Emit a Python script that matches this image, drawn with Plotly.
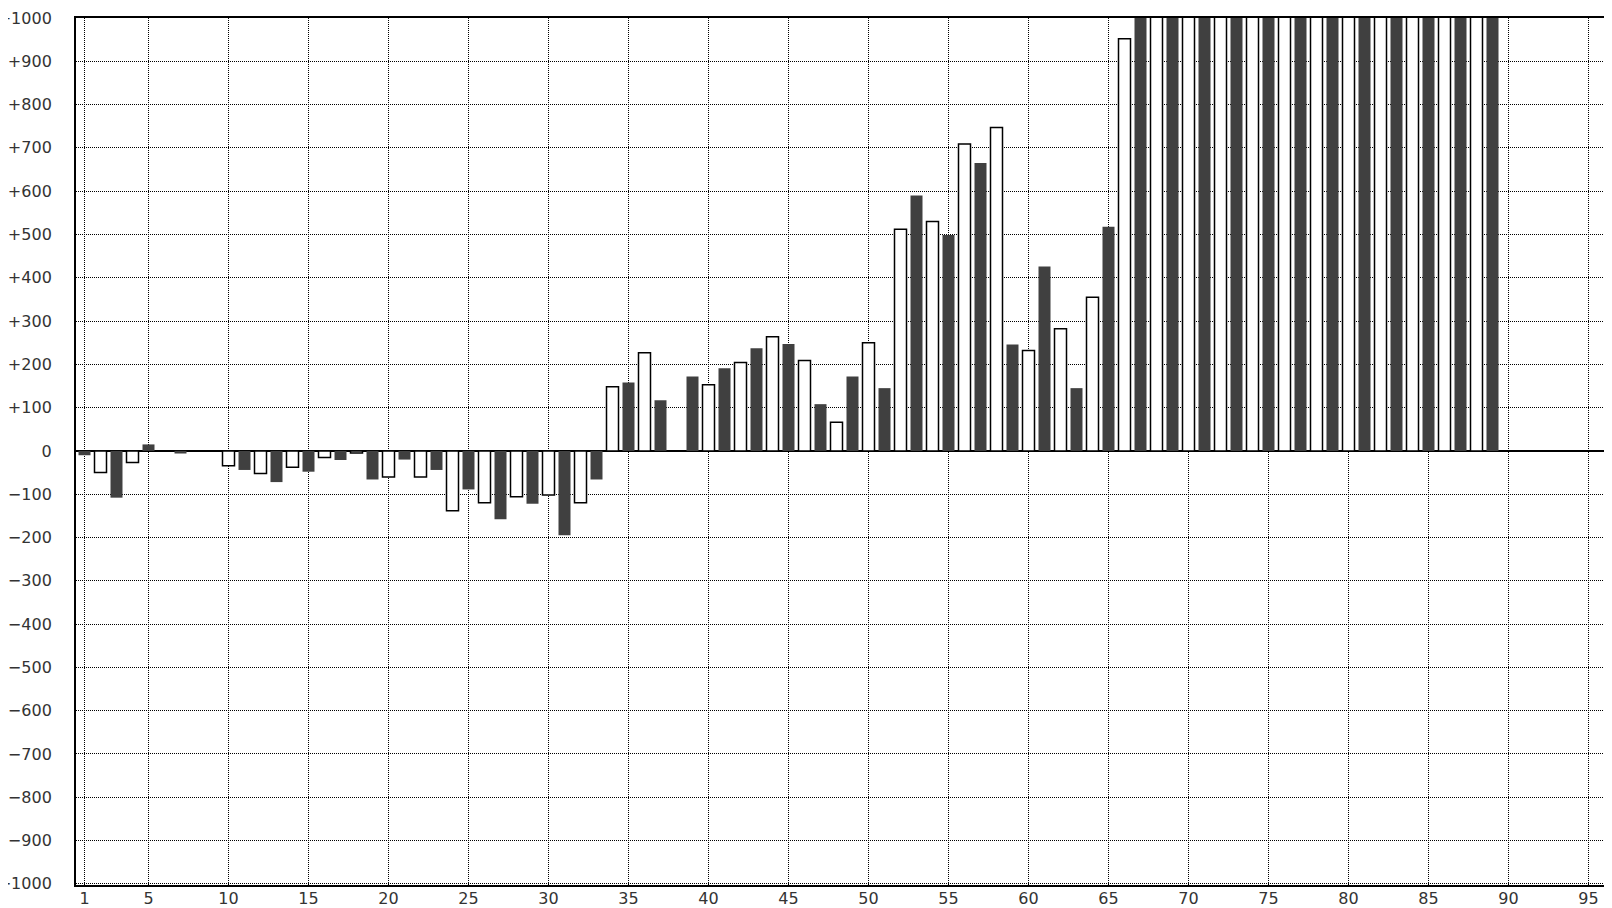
import plotly.graph_objects as go

days = list(range(1, 90))
values = [
    -10, -50, -108, -27, 15, 0, -6, 0, 0, -34,
    -44, -52, -72, -38, -48, -15, -21, -5, -66, -60,
    -20, -60, -44, -138, -89, -120, -158, -106, -122, -102,
    -195, -120, -66, 148, 158, 227, 117, 0, 172, 153,
    191, 204, 237, 264, 247, 209, 108, 66, 172, 250,
    145, 512, 590, 530, 499, 709, 665, 747, 246, 232,
    426, 282, 145, 355, 518, 952, 1100, 1100, 1100, 1100,
    1100, 1100, 1100, 1100, 1100, 1100, 1100, 1100, 1100, 1100,
    1100, 1100, 1100, 1100, 1100, 1100, 1100, 1100, 1100,
]

x_ticks = [1, 5, 10, 15, 20, 25, 30, 35, 40, 45, 50, 55, 60, 65, 70, 75, 80, 85, 90, 95]
y_ticks = list(range(-1000, 1001, 100))
y_labels = ["0" if v == 0 else ("+%d" % v if v > 0 else "\u2212%d" % -v) for v in y_ticks]

odd_x = [d for d in days if d % 2 == 1]
odd_y = [v for d, v in zip(days, values) if d % 2 == 1]
even_x = [d for d in days if d % 2 == 0]
even_y = [v for d, v in zip(days, values) if d % 2 == 0]

fig = go.Figure()
fig.add_trace(go.Bar(x=even_x, y=even_y, width=0.75,
                     marker=dict(color="white", line=dict(color="black", width=1.5))))
fig.add_trace(go.Bar(x=odd_x, y=odd_y, width=0.75,
                     marker=dict(color="#404040", line=dict(color="#404040", width=0))))

# the page body adds an 8px margin, so the figure is 8px smaller and shifted
fig.update_layout(
    width=1604, height=900,
    margin=dict(l=68, r=0, t=10, b=23, autoexpand=False),
    paper_bgcolor="white", plot_bgcolor="white",
    barmode="overlay", showlegend=False,
    font=dict(family="DejaVu Sans", size=16, color="#333"),
)
fig.update_xaxes(
    range=[0.46875, 96.46875], tickvals=x_ticks, ticktext=[str(t) for t in x_ticks],
    automargin=False, ticklabeloverflow="allow",
    showgrid=True, gridcolor="black", gridwidth=1, griddash="1px,1px",
    showline=True, linecolor="black", linewidth=2, mirror=True,
    ticks="", ticklabelstandoff=-2,
    zeroline=False,
)
fig.update_yaxes(
    range=[-1002.7, 1000], tickvals=y_ticks, ticktext=y_labels,
    automargin=False, ticklabeloverflow="allow",
    showgrid=True, gridcolor="black", gridwidth=1, griddash="1px,1px",
    showline=True, linecolor="black", linewidth=2, mirror=False,
    ticks="outside", ticklen=19, tickcolor="rgba(0,0,0,0)",
    zeroline=True, zerolinecolor="black", zerolinewidth=1.5,
)

fig.write_html("out.html")
